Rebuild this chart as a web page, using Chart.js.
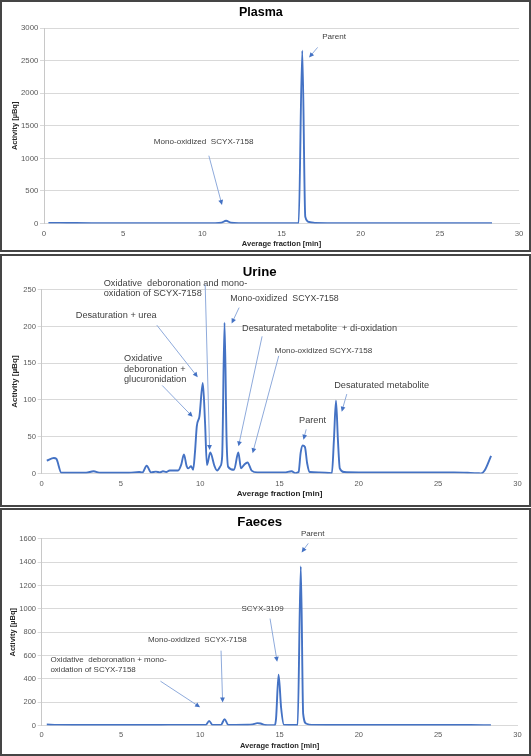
<!DOCTYPE html>
<html>
<head>
<meta charset="utf-8">
<script src="https://cdn.jsdelivr.net/npm/chart.js@4.4.1/dist/chart.umd.min.js"></script>
<style>
  html, body { margin: 0; padding: 0; background: #fff; }
  body { width: 531px; height: 756px; position: relative; overflow: hidden; }
  .panel { position: absolute; left: 0; width: 531px; box-sizing: border-box; border: 2px solid #454545; background: #fff; }
  .panel canvas { display: block; }
</style>
</head>
<body>
<div class="panel" style="top:0;height:252px"><canvas id="plasmaChart" width="527" height="248"></canvas></div>
<div class="panel" style="top:254px;height:253px"><canvas id="urineChart" width="527" height="249"></canvas></div>
<div class="panel" style="top:508px;height:248px"><canvas id="faecesChart" width="527" height="244"></canvas></div>
<script>
// 讀圖得到的資料 (時間 min / 活性 µBq)
const plasmaTime = [0.28, 1, 2, 3, 4, 5, 6, 7, 8, 9, 10, 10.8, 11.2, 11.5, 11.8, 12.3, 13, 14, 15, 15.7, 16.08, 16.31, 16.5, 16.75, 17.1, 18, 19, 20, 21, 22, 23, 24, 25, 26, 27, 28.29];
const plasmaActivity = [10, 9, 7, 6, 6, 5, 5, 5, 6, 6, 6, 6, 12, 42, 12, 6, 6, 5, 6, 6, 5, 2652, 104, 22, 8, 6, 5, 5, 5, 5, 4, 4, 4, 4, 4, 4];

const urineTime = [0.32, 0.77, 0.92, 1.24, 2, 2.8, 3.27, 3.7, 4.5, 5.5, 6.15, 6.35, 6.62, 6.9, 7.2, 7.45, 7.65, 7.85, 8.07, 8.6, 8.8, 8.97, 9.14, 9.25, 9.42, 9.55, 9.67, 9.78, 9.95, 10.16, 10.3, 10.42, 10.63, 10.9, 11.06, 11.27, 11.38, 11.53, 11.66, 11.76, 12.13, 12.4, 12.57, 12.77, 12.98, 13.24, 13.6, 14.5, 15.3, 15.76, 16.0, 16.2, 16.33, 16.46, 16.6, 16.74, 16.9, 17.5, 18.3, 18.43, 18.56, 18.68, 18.8, 19.07, 20, 21, 22, 23, 24, 25, 26, 26.86, 27.5, 27.7, 27.93, 28.34];
const urineActivity = [17.5, 21, 20, 1, 1, 1, 3, 1, 1, 1, 2, 1.5, 10.5, 1.5, 2.5, 1.5, 3, 2, 4, 4, 12, 26, 10, 7, 10, 5, 30, 64, 78, 123, 70, 11.5, 28.5, 10, 4, 10, 23, 205, 46, 9, 5, 28.5, 7, 12, 15, 4, 1.5, 1.5, 1.5, 3, 0.5, 2, 28, 38, 36, 14, 2, 1.5, 0.5, 46, 99, 46, 7, 2, 1.5, 1.5, 1.5, 1.5, 1.5, 1.5, 1.5, 1, 0.5, 0, 4, 24];

const faecesTime = [0.32, 1, 2, 3, 4, 5, 6, 7, 8, 9, 10, 10.35, 10.56, 10.77, 11.0, 11.3, 11.54, 11.76, 12.2, 13.0, 13.3, 13.6, 13.8, 14.05, 14.5, 14.7, 14.78, 14.94, 15.1, 15.28, 15.6, 16.05, 16.14, 16.34, 16.49, 16.7, 17.03, 18, 19, 20, 21, 22, 23, 24, 25, 26, 27, 28.33];
const faecesActivity = [8, 5, 4, 4, 4, 4, 4, 4, 5, 5, 5, 5, 40, 5, 5, 5, 55, 5, 5, 6, 10, 20, 17, 5, 2, 2, 60, 435, 150, 5, 4, 4, 3, 1365, 99, 15, 5, 4, 4, 4, 4, 4, 4, 4, 4, 4, 4, 3];

// 標註文字與箭頭 (以資料座標表示)
const plasmaNotes = [
    { text: ['Parent'], size: 8.1, at: [18.32, 2860], from: [17.28, 2704], to: [16.74, 2548] },
    { text: ['Mono-oxidized  SCYX-7158'], size: 8.1, at: [10.08, 1248], from: [10.41, 1041], to: [11.24, 285] },
];
const urineNotes = [
    { text: ['Oxidative  deboronation and mono-', 'oxidation of SCYX-7158'], align: 'left', size: 9.2, gap: 10.2, at: [3.91, 258], from: [10.31, 257], to: [10.59, 32] },
    { text: ['Mono-oxidized  SCYX-7158'], size: 8.8, at: [15.31, 238.5], from: [12.45, 225.6], to: [11.98, 204] },
    { text: ['Desaturation + urea'], size: 9.2, at: [4.70, 215], from: [7.26, 201.7], to: [9.84, 131] },
    { text: ['Oxidative', 'deboronation +', 'glucuronidation'], align: 'left', size: 9.2, gap: 10.7, at: [5.19, 156.5], from: [7.60, 119.7], to: [9.52, 77] },
    { text: ['Desaturated metabolite  + di-oxidation'], size: 9.2, at: [17.52, 197], from: [13.90, 186.5], to: [12.41, 37] },
    { text: ['Mono-oxidized SCYX-7158'], size: 8.1, at: [17.77, 167], from: [14.95, 160], to: [13.30, 27.6] },
    { text: ['Parent'], size: 9.2, at: [17.08, 72.7], from: [16.68, 60], to: [16.51, 46] },
    { text: ['Desaturated metabolite'], size: 9.2, at: [21.44, 119.7], from: [19.24, 108], to: [18.92, 84] },
];
const faecesNotes = [
    { text: ['Parent'], size: 8, at: [17.09, 1643], from: [16.81, 1562], to: [16.39, 1484] },
    { text: ['SCYX-3109'], size: 8, at: [13.93, 999], from: [14.40, 917], to: [14.85, 546] },
    { text: ['Mono-oxidized  SCYX-7158'], size: 8, at: [9.81, 737], from: [11.31, 642], to: [11.41, 197] },
    { text: ['Oxidative  deboronation + mono-', 'oxidation of SCYX-7158'], align: 'left', size: 8, gap: 10.2, at: [0.55, 563], from: [7.49, 380], to: [9.99, 157] },
];

const FONT = '"Liberation Sans", Arial, sans-serif';

const notesPlugin = {
    id: 'notes',
    afterDatasetsDraw(chart, args, opts) {
        const ctx = chart.ctx;
        const xs = chart.scales.x, ys = chart.scales.y;
        ctx.save();
        (opts.items || []).forEach(n => {
            ctx.font = n.size + 'px ' + FONT;
            ctx.fillStyle = '#404040';
            ctx.textAlign = n.align || 'center';
            ctx.textBaseline = 'middle';
            const tx = xs.getPixelForValue(n.at[0]);
            const ty = ys.getPixelForValue(n.at[1]);
            n.text.forEach((line, i) => ctx.fillText(line, tx, ty + i * (n.gap || 0)));

            // 箭頭
            const x1 = xs.getPixelForValue(n.from[0]), y1 = ys.getPixelForValue(n.from[1]);
            const x2 = xs.getPixelForValue(n.to[0]), y2 = ys.getPixelForValue(n.to[1]);
            const a = Math.atan2(y2 - y1, x2 - x1);
            ctx.strokeStyle = '#8eaadb';
            ctx.lineWidth = 1;
            ctx.beginPath();
            ctx.moveTo(x1, y1);
            ctx.lineTo(x2 - 3 * Math.cos(a), y2 - 3 * Math.sin(a));
            ctx.stroke();
            ctx.fillStyle = '#4472c4';
            ctx.beginPath();
            ctx.moveTo(x2, y2);
            ctx.lineTo(x2 - 5 * Math.cos(a) + 2.4 * Math.sin(a), y2 - 5 * Math.sin(a) - 2.4 * Math.cos(a));
            ctx.lineTo(x2 - 5 * Math.cos(a) - 2.4 * Math.sin(a), y2 - 5 * Math.sin(a) + 2.4 * Math.cos(a));
            ctx.closePath();
            ctx.fill();
        });
        ctx.restore();
    }
};

function makeChart(id, c) {
    const points = c.time.map((t, i) => ({ x: t, y: c.values[i] }));
    return new Chart(document.getElementById(id), {
        type: 'line',
        data: {
            datasets: [{
                data: points,
                borderColor: '#4472c4',
                borderWidth: 1.9,
                pointRadius: 0,
                cubicInterpolationMode: 'monotone',
                fill: false,
            }]
        },
        options: {
            responsive: false,
            animation: false,
            events: [],
            layout: { padding: { top: 0, left: 0, right: c.padRight, bottom: 0 } },
            plugins: {
                legend: { display: false },
                tooltip: { enabled: false },
                title: {
                    display: true,
                    text: c.title,
                    color: '#000',
                    font: { family: FONT, size: c.titleSize, weight: 'bold' },
                    padding: { top: c.titleTop, bottom: c.titleBottom },
                },
                notes: { items: c.notes },
            },
            scales: {
                x: {
                    type: 'linear',
                    min: 0,
                    max: 30,
                    afterFit(s) { s.height = c.xHeight; },
                    grid: { display: false, drawTicks: false },
                    border: { display: true, color: '#d9d9d9' },
                    ticks: {
                        stepSize: 5, padding: c.xTickPad, color: '#595959',
                        font: { family: FONT, size: c.tickSize },
                        callback: v => String(v),
                    },
                    title: {
                        display: true,
                        text: 'Average fraction [min]',
                        color: '#262626',
                        font: { family: FONT, size: c.axisTitleSize, weight: 'bold' },
                        padding: { top: 0, bottom: c.xTitlePad },
                    },
                },
                y: {
                    min: 0,
                    max: c.yMax,
                    afterFit(s) { s.width = c.yWidth; },
                    grid: { color: '#d9d9d9', tickLength: 4 },
                    border: { display: true, color: '#c8c8c8' },
                    ticks: {
                        stepSize: c.yStep, padding: 1.7, color: '#595959',
                        font: { family: FONT, size: c.tickSize },
                        callback: v => String(v),
                    },
                    title: {
                        display: true,
                        text: 'Activity [µBq]',
                        color: '#262626',
                        font: { family: FONT, size: c.axisTitleSize, weight: 'bold' },
                        padding: { top: c.yTitlePad, bottom: 0 },
                    },
                },
            },
        },
        plugins: [notesPlugin],
    });
}

makeChart('plasmaChart', {
    title: 'Plasma', titleSize: 12.5, titleTop: 2.7, titleBottom: 8.4,
    time: plasmaTime, values: plasmaActivity, notes: plasmaNotes,
    yMax: 3000, yStep: 500, yWidth: 42, padRight: 9.2, xHeight: 26.5,
    tickSize: 7.8, axisTitleSize: 7.5, xTickPad: 5.6, xTitlePad: 1.6, yTitlePad: 8,
});
makeChart('urineChart', {
    title: 'Urine', titleSize: 13.2, titleTop: 8.5, titleBottom: 9.3,
    time: urineTime, values: urineActivity, notes: urineNotes,
    yMax: 250, yStep: 50, yWidth: 39.7, padRight: 11.6, xHeight: 31.5,
    tickSize: 7.6, axisTitleSize: 8.1, xTickPad: 5.6, xTitlePad: 6.3, yTitlePad: 8.4,
});
makeChart('faecesChart', {
    title: 'Faeces', titleSize: 13.2, titleTop: 4.4, titleBottom: 8.7,
    time: faecesTime, values: faecesActivity, notes: faecesNotes,
    yMax: 1600, yStep: 200, yWidth: 39.7, padRight: 11.6, xHeight: 28.5,
    tickSize: 7.5, axisTitleSize: 7.5, xTickPad: 5.4, xTitlePad: 4, yTitlePad: 6.4,
});
</script>
</body>
</html>
